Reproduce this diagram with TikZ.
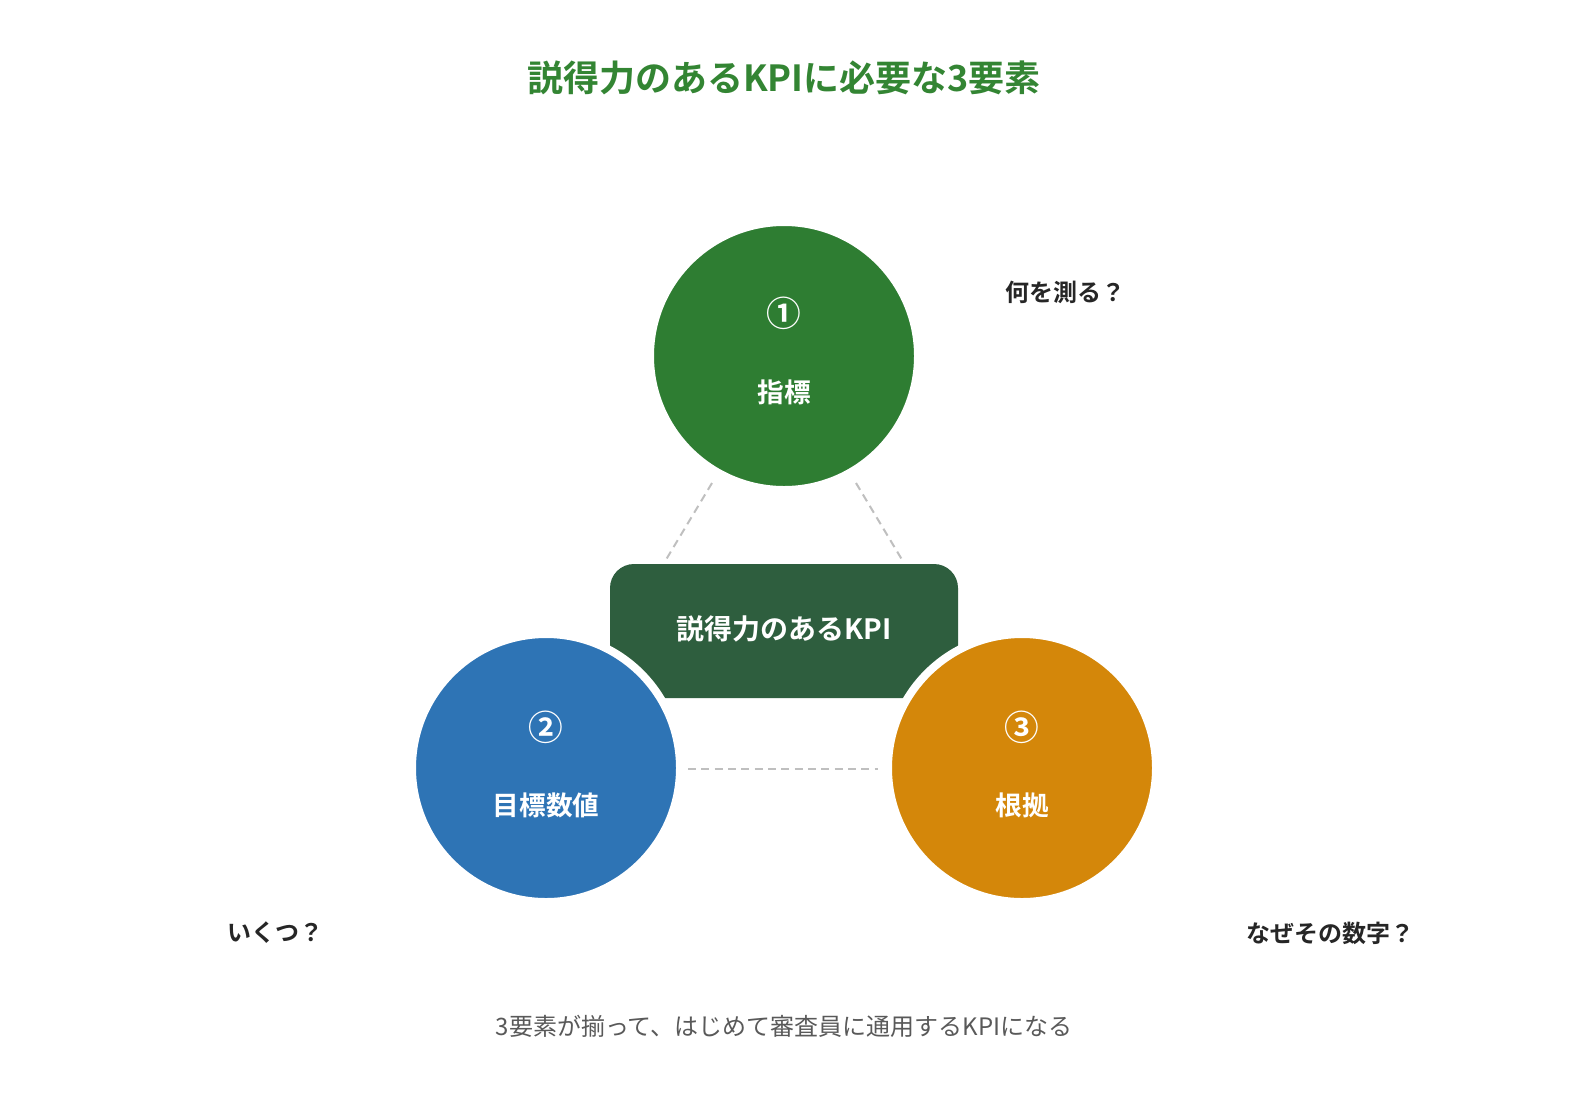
\documentclass[tikz,border=0pt]{standalone}
\usepackage{fontspec}
\newfontfamily\jp{Noto Sans CJK JP}
\newfontfamily\jpb{Noto Sans CJK JP Bold}
\begin{document}
\begin{tikzpicture}[x=0.75pt,y=-0.75pt,
  circ/.style={circle,minimum size=268*0.75pt,inner sep=0pt,draw=white,line width=6pt},
  num/.style={text=white,font=\jpb\fontsize{26}{26}\selectfont},
  lbl/.style={text=white,font=\jpb\fontsize{20}{20}\selectfont},
  q/.style={text=black!85,font=\jpb\fontsize{18}{18}\selectfont},
  conn/.style={draw=black!25,line width=1.5pt,dash pattern=on 6pt off 4pt}]
\useasboundingbox (0,0) rectangle (1580,1118);
\fill[white] (0,0) rectangle (1580,1118);
\node[text=green!40!black!80,font=\jpb\fontsize{27}{27}\selectfont] (title) at (784,78) {説得力のあるKPIに必要な3要素};
\coordinate (a1) at (712,483); \coordinate (b1) at (664,563);
\coordinate (a2) at (856,483); \coordinate (b2) at (904,563);
\coordinate (a3) at (688,769); \coordinate (b3) at (878,769);
\draw[conn] (a1)--(b1); \draw[conn] (a2)--(b2); \draw[conn] (a3)--(b3);
\node[draw=none,fill={rgb,255:red,46;green,94;blue,62},rounded corners=18pt,minimum width=348*0.75pt,minimum height=134*0.75pt] (kpi) at (784,631) {};
\node[circ,fill={rgb,255:red,46;green,125;blue,50}] (c1) at (784,356) {};
\node[circ,fill={rgb,255:red,46;green,116;blue,181}] (c2) at (546,768) {};
\node[circ,fill={rgb,255:red,212;green,135;blue,10}] (c3) at (1022,768) {};
\node[text=white,font=\jpb\fontsize{21}{21}\selectfont] (kpit) at (784,629) {説得力のあるKPI};
\node[num] (n1) at (784,313) {①}; \node[lbl] (l1) at (784,392) {指標};
\node[num] (n2) at (546,727) {②}; \node[lbl] (l2) at (546,805) {目標数値};
\node[num] (n3) at (1022,727) {③}; \node[lbl] (l3) at (1022,805) {根拠};
\node[q] (q1) at (1065,292) {何を測る？};
\node[q] (q2) at (275,933) {いくつ？};
\node[q] (q3) at (1330,933) {なぜその数字？};
\node[text=black!65,font=\jp\fontsize{18}{18}\selectfont] (foot) at (784,1026) {3要素が揃って、はじめて審査員に通用するKPIになる};
\end{tikzpicture}
\end{document}
